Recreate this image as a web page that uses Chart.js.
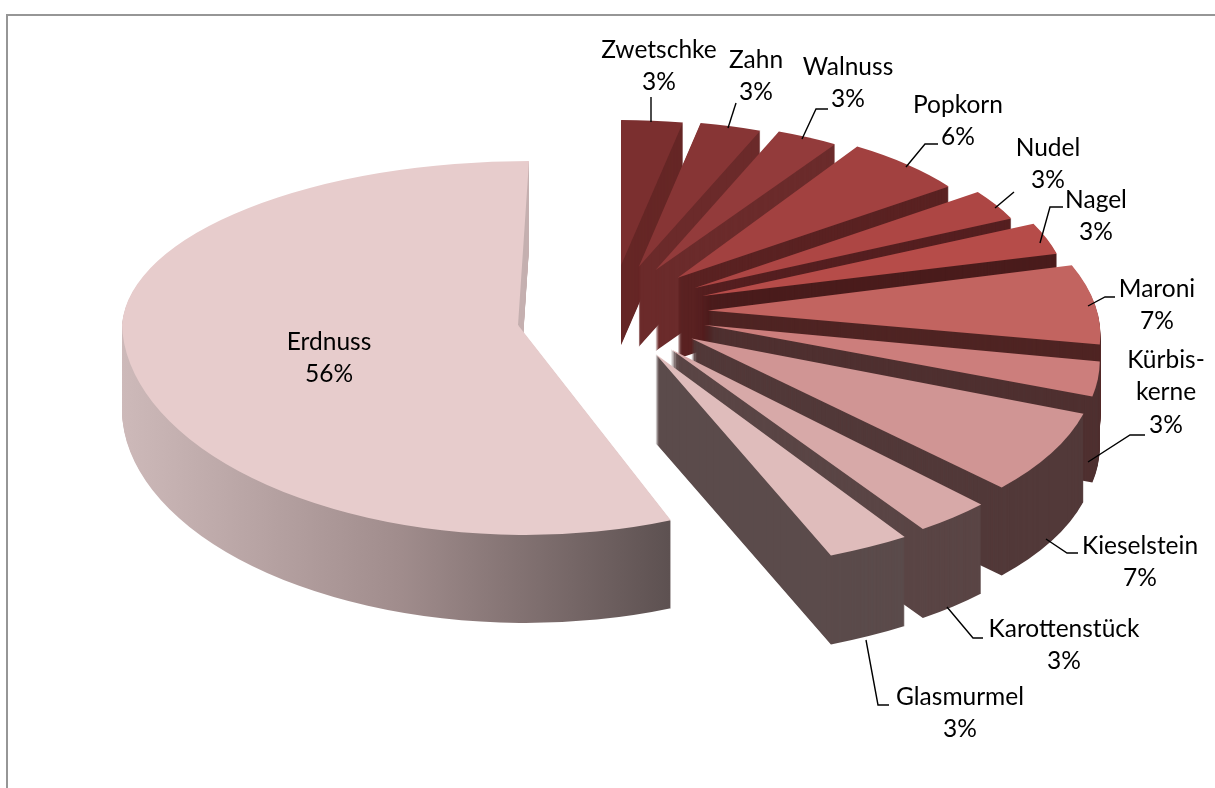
<!DOCTYPE html>
<html>
<head>
<meta charset="utf-8">
<script src="https://cdn.jsdelivr.net/npm/chart.js@4"></script>
<style>
    html, body { margin: 0; padding: 0; background: #fff; }
    canvas { display: block; }
</style>
</head>
<body>
<canvas id="chart" width="1215" height="788"></canvas>
<script>
const categories = ['Zwetschke', 'Zahn', 'Walnuss', 'Popkorn', 'Nudel', 'Nagel', 'Maroni', 'Kürbis-\nkerne', 'Kieselstein', 'Karottenstück', 'Glasmurmel', 'Erdnuss'];
const shares = [3, 3, 3, 6, 3, 3, 7, 3, 7, 3, 3, 56];
const topColors = ['#7B2F2F', '#873535', '#933B3B', '#A24140', '#AD4644', '#B64C49', '#C26460', '#CC7E7C', '#D09594', '#D7A9A8', '#DFBCBB', '#E7CCCC'];
const wallColors = ['#662726', '#6B2A2A', '#6B2B2B', '#5A2222', '#551F20', '#4A1C1C', '#4F2423', '#4F3030', '#523939', '#5A4545', '#5B4B4B', null];

// horizontal reach and shear of each wedge on screen, stands in for perspective
const rimX = [330, 330, 335, 335, 350, 366, 389, 389, 403, 418, 446, 396];
const leanX = [0, 0, 0, 0, 0, 0, 0.13, 0.18, 0.118, 0.083, 0.03, 0.019];

// label anchors: text centre x, first line y, then the leader polyline
const labelSpots = [
    { x: 659, y: 50, lead: [[651, 97], [651, 122]] },
    { x: 756, y: 60, lead: [[736, 103], [728, 128]] },
    { x: 848, y: 67, lead: [[828, 109], [816, 109], [802, 139]] },
    { x: 958, y: 105, lead: [[938, 144], [925, 144], [906, 167]] },
    { x: 1048, y: 148, lead: [[1014, 192], [995, 208]] },
    { x: 1096, y: 200, lead: [[1063, 207], [1050, 207], [1040, 243]] },
    { x: 1157, y: 289, lead: [[1115, 297], [1105, 297], [1088, 306]] },
    { x: 1166, y: 360, lead: [[1145, 435], [1130, 435], [1088, 462]] },
    { x: 1140, y: 546, lead: [[1078, 553], [1067, 553], [1046, 539]] },
    { x: 1064, y: 629, lead: [[983, 638], [973, 638], [947, 607]] },
    { x: 960, y: 697, lead: [[889, 705], [878, 705], [866, 640]] },
    { x: 329, y: 342, lead: [] }
];

const BASE_R = 400;
const BIG = categories.indexOf('Erdnuss');

// fake perspective: each wedge gets its own scale and pull-out
function sliceView(i, arc) {
    const a = (arc.startAngle + arc.endAngle) / 2 + Math.PI / 2;
    const sx = rimX[i] / BASE_R;
    if (i === BIG) return { x: 518, y: 325, sx, back: 164 / BASE_R, front: 210 / BASE_R, leanBack: -11 / BASE_R, lean: leanX[i], depth: 88 };
    const sy = (183 - 38 * Math.cos(a)) / BASE_R;
    return {
        x: 612 + 96 * Math.sin(a),
        y: 312 - 47 * Math.cos(a),
        sx, back: sy, front: sy, leanBack: leanX[i], lean: leanX[i],
        depth: Math.round(85 - 5 * Math.cos(a))
    };
}

function paintArc(ctx, arc, x, y, sx, sy, lean, color) {
    const saved = arc.options;
    ctx.save();
    ctx.translate(x, y);
    ctx.transform(sx, 0, lean, sy, 0, 0);
    ctx.translate(-arc.x, -arc.y);
    arc.options = { ...saved, backgroundColor: color };
    arc.draw(ctx);
    arc.options = saved;
    ctx.restore();
}

function paintLayer(ctx, arc, v, lift, color, backColor, W, H) {
    const y = v.y + lift;
    if (v.back === v.front) { paintArc(ctx, arc, v.x, y, v.sx, v.back, v.lean, color); return; }
    ctx.save();
    ctx.beginPath(); ctx.rect(0, 0, W, y + 0.5); ctx.clip();
    paintArc(ctx, arc, v.x, y, v.sx, v.back, v.leanBack, backColor);
    ctx.restore();
    ctx.save();
    ctx.beginPath(); ctx.rect(0, y, W, H - y); ctx.clip();
    paintArc(ctx, arc, v.x, y, v.sx, v.front, v.lean, color);
    ctx.restore();
}

const pie3d = {
    id: 'pie3d',
    beforeDraw(chart) {
        const { ctx, width, height } = chart;
        ctx.save();
        ctx.fillStyle = '#fff';
        ctx.fillRect(0, 0, width, height);
        ctx.strokeStyle = '#969696';
        ctx.lineWidth = 2;
        ctx.beginPath();
        ctx.moveTo(7, height); ctx.lineTo(7, 15); ctx.lineTo(width, 15);
        ctx.stroke();
        ctx.restore();
    },
    beforeDatasetDraw(chart) {
        const { ctx, width, height } = chart;
        chart.getDatasetMeta(0).data.forEach((arc, i) => {
            const v = sliceView(i, arc);
            let wall = wallColors[i];
            let backWall = wall;
            if (!wall) {
                const gx = x => arc.x + (x - v.x) / v.sx;
                wall = ctx.createLinearGradient(gx(122), 0, gx(667), 0);
                wall.addColorStop(0, '#CDB9B9');
                wall.addColorStop(0.5, '#A08C8C');
                wall.addColorStop(1, '#5C5050');
                backWall = '#C6B1B1';
            }
            for (let d = v.depth; d > 0; d--) paintLayer(ctx, arc, v, d, wall, backWall, width, height);
            paintLayer(ctx, arc, v, 0, topColors[i], topColors[i], width, height);
        });
        return false;
    },
    afterDraw(chart) {
        const { ctx } = chart;
        ctx.save();
        ctx.strokeStyle = '#000';
        ctx.lineWidth = 1.4;
        labelSpots.forEach(s => {
            if (!s.lead.length) return;
            ctx.beginPath();
            s.lead.forEach((p, j) => j ? ctx.lineTo(p[0], p[1]) : ctx.moveTo(p[0], p[1]));
            ctx.stroke();
        });
        ctx.fillStyle = '#000';
        ctx.font = '24.5px Lato, "Open Sans", sans-serif';
        ctx.textAlign = 'center';
        ctx.textBaseline = 'middle';
        categories.forEach((name, i) => {
            const lines = name.split('\n').concat(shares[i] + '%');
            lines.forEach((t, j) => ctx.fillText(t, labelSpots[i].x, labelSpots[i].y + j * 32.5));
        });
        ctx.restore();
    }
};

new Chart(document.getElementById('chart').getContext('2d'), {
    type: 'pie',
    data: { labels: categories, datasets: [{ data: shares, backgroundColor: topColors, borderWidth: 0, radius: BASE_R }] },
    options: {
        responsive: false,
        animation: false,
        radius: BASE_R,
        plugins: { legend: { display: false }, tooltip: { enabled: false } }
    },
    plugins: [pie3d]
});
</script>
</body>
</html>
